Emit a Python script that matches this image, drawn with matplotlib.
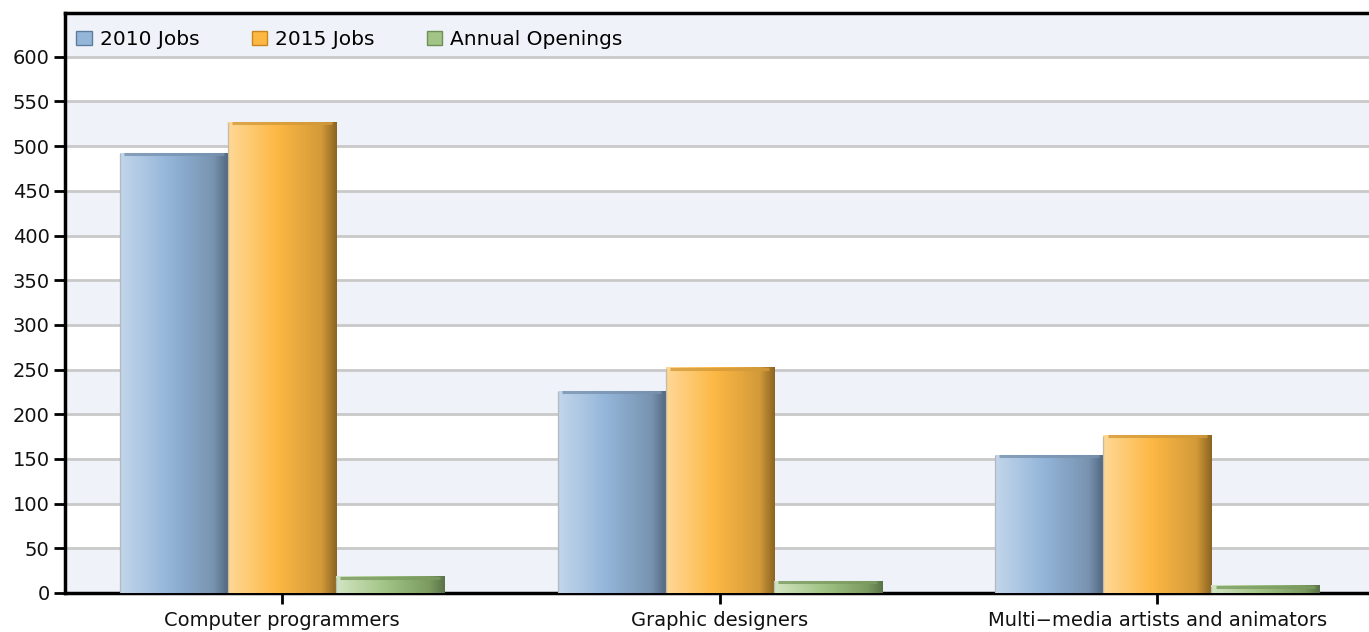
import numpy as np
import matplotlib.pyplot as plt
from matplotlib.colors import LinearSegmentedColormap

categories = ['Computer programmers', 'Graphic designers', 'Multi\u2212media artists and animators']
series_names = ['2010 Jobs', '2015 Jobs', 'Annual Openings']
jobs_2010 = [492, 226, 154]
jobs_2015 = [527, 252, 176]
openings = [18, 13, 8]
yticks = list(range(0, 601, 50))

# left -> right shading of each bar, like the old chart's 3d look
shades = [
    ['#c3d6eb', '#93b5d9', '#7893b0', '#50667e'],
    ['#ffd897', '#fdb844', '#d39a39', '#8a6422'],
    ['#d3e5c3', '#a2c486', '#7b9b61', '#5a7347'],
]
legend_cols = ['#94b6d9', '#fdb844', '#a2c486']
legend_edges = ['#5d7da0', '#c8871c', '#6f8f55']

plt.rcParams['font.family'] = ['DejaVu Sans']
fig = plt.figure(figsize=(13.69, 6.32), dpi=100)
ax = fig.add_axes([65/1369, 39/632, 1 - 65/1369, (593-13)/632])

ymax = 649
xlo, xhi = -0.496, 2.484
ax.set_xlim(xlo, xhi)
ax.set_ylim(0, ymax)

# alternating bands + grid lines
for y0 in range(0, 651, 100):
    ax.axhspan(y0, y0 + 50, color='#eff3f9', zorder=0, lw=0)
for y in yticks:
    ax.axhline(y, color='#c9c9c9', lw=2, zorder=1)

w = 0.247
x = np.arange(len(categories))
data = [jobs_2010, jobs_2015, openings]
grad = np.linspace(0, 1, 256).reshape(1, -1)
for i, vals in enumerate(data):
    cmap = LinearSegmentedColormap.from_list('s%d' % i,
        list(zip([0, 0.45, 0.86, 1.0], shades[i])))
    xs = x + (i - 1) * w
    bars = ax.bar(xs, vals, width=w, color=legend_cols[i], zorder=2, lw=0,
                  label=series_names[i])
    for b in bars:
        x0, x1 = b.get_x(), b.get_x() + b.get_width()
        h = b.get_height()
        ax.imshow(grad, extent=[x0, x1, 0, h], aspect='auto', cmap=cmap,
                  zorder=3, interpolation='bicubic')
        ax.plot([x0 + 0.01, x1 - 0.01], [h - 0.8, h - 0.8], color=shades[i][2],
                lw=2.2, zorder=4, alpha=0.8, solid_capstyle='butt')
        ax.plot([x0, x0], [0, h - 1], color='#a8a8a8', lw=1, zorder=4, alpha=0.6)

ax.set_xlim(xlo, xhi)
ax.set_ylim(0, ymax)

ax.set_yticks(yticks)
ax.set_xticks(x)
ax.set_xticklabels(categories)
ax.tick_params(axis='y', length=8, width=2, labelsize=14, pad=3, colors='black',
               labelcolor='#111111')
ax.tick_params(axis='x', length=8, width=2, labelsize=14, pad=5,
               labelcolor='#111111')

for s in ['left', 'bottom', 'top']:
    ax.spines[s].set_linewidth(2.5)
    ax.spines[s].set_color('black')
ax.spines['right'].set_visible(False)

handles = [plt.Rectangle((0, 0), 1, 1, fc=legend_cols[i], ec=legend_edges[i], lw=1)
           for i in range(3)]
ax.legend(handles, series_names, loc='upper left', ncol=3, frameon=False,
          prop={'size': 14.5}, handlelength=0.75, handleheight=0.75,
          handletextpad=0.4, columnspacing=2.6, borderaxespad=0.3,
          bbox_to_anchor=(-0.002, 0.995))

fig.savefig('out.png', dpi=100)
